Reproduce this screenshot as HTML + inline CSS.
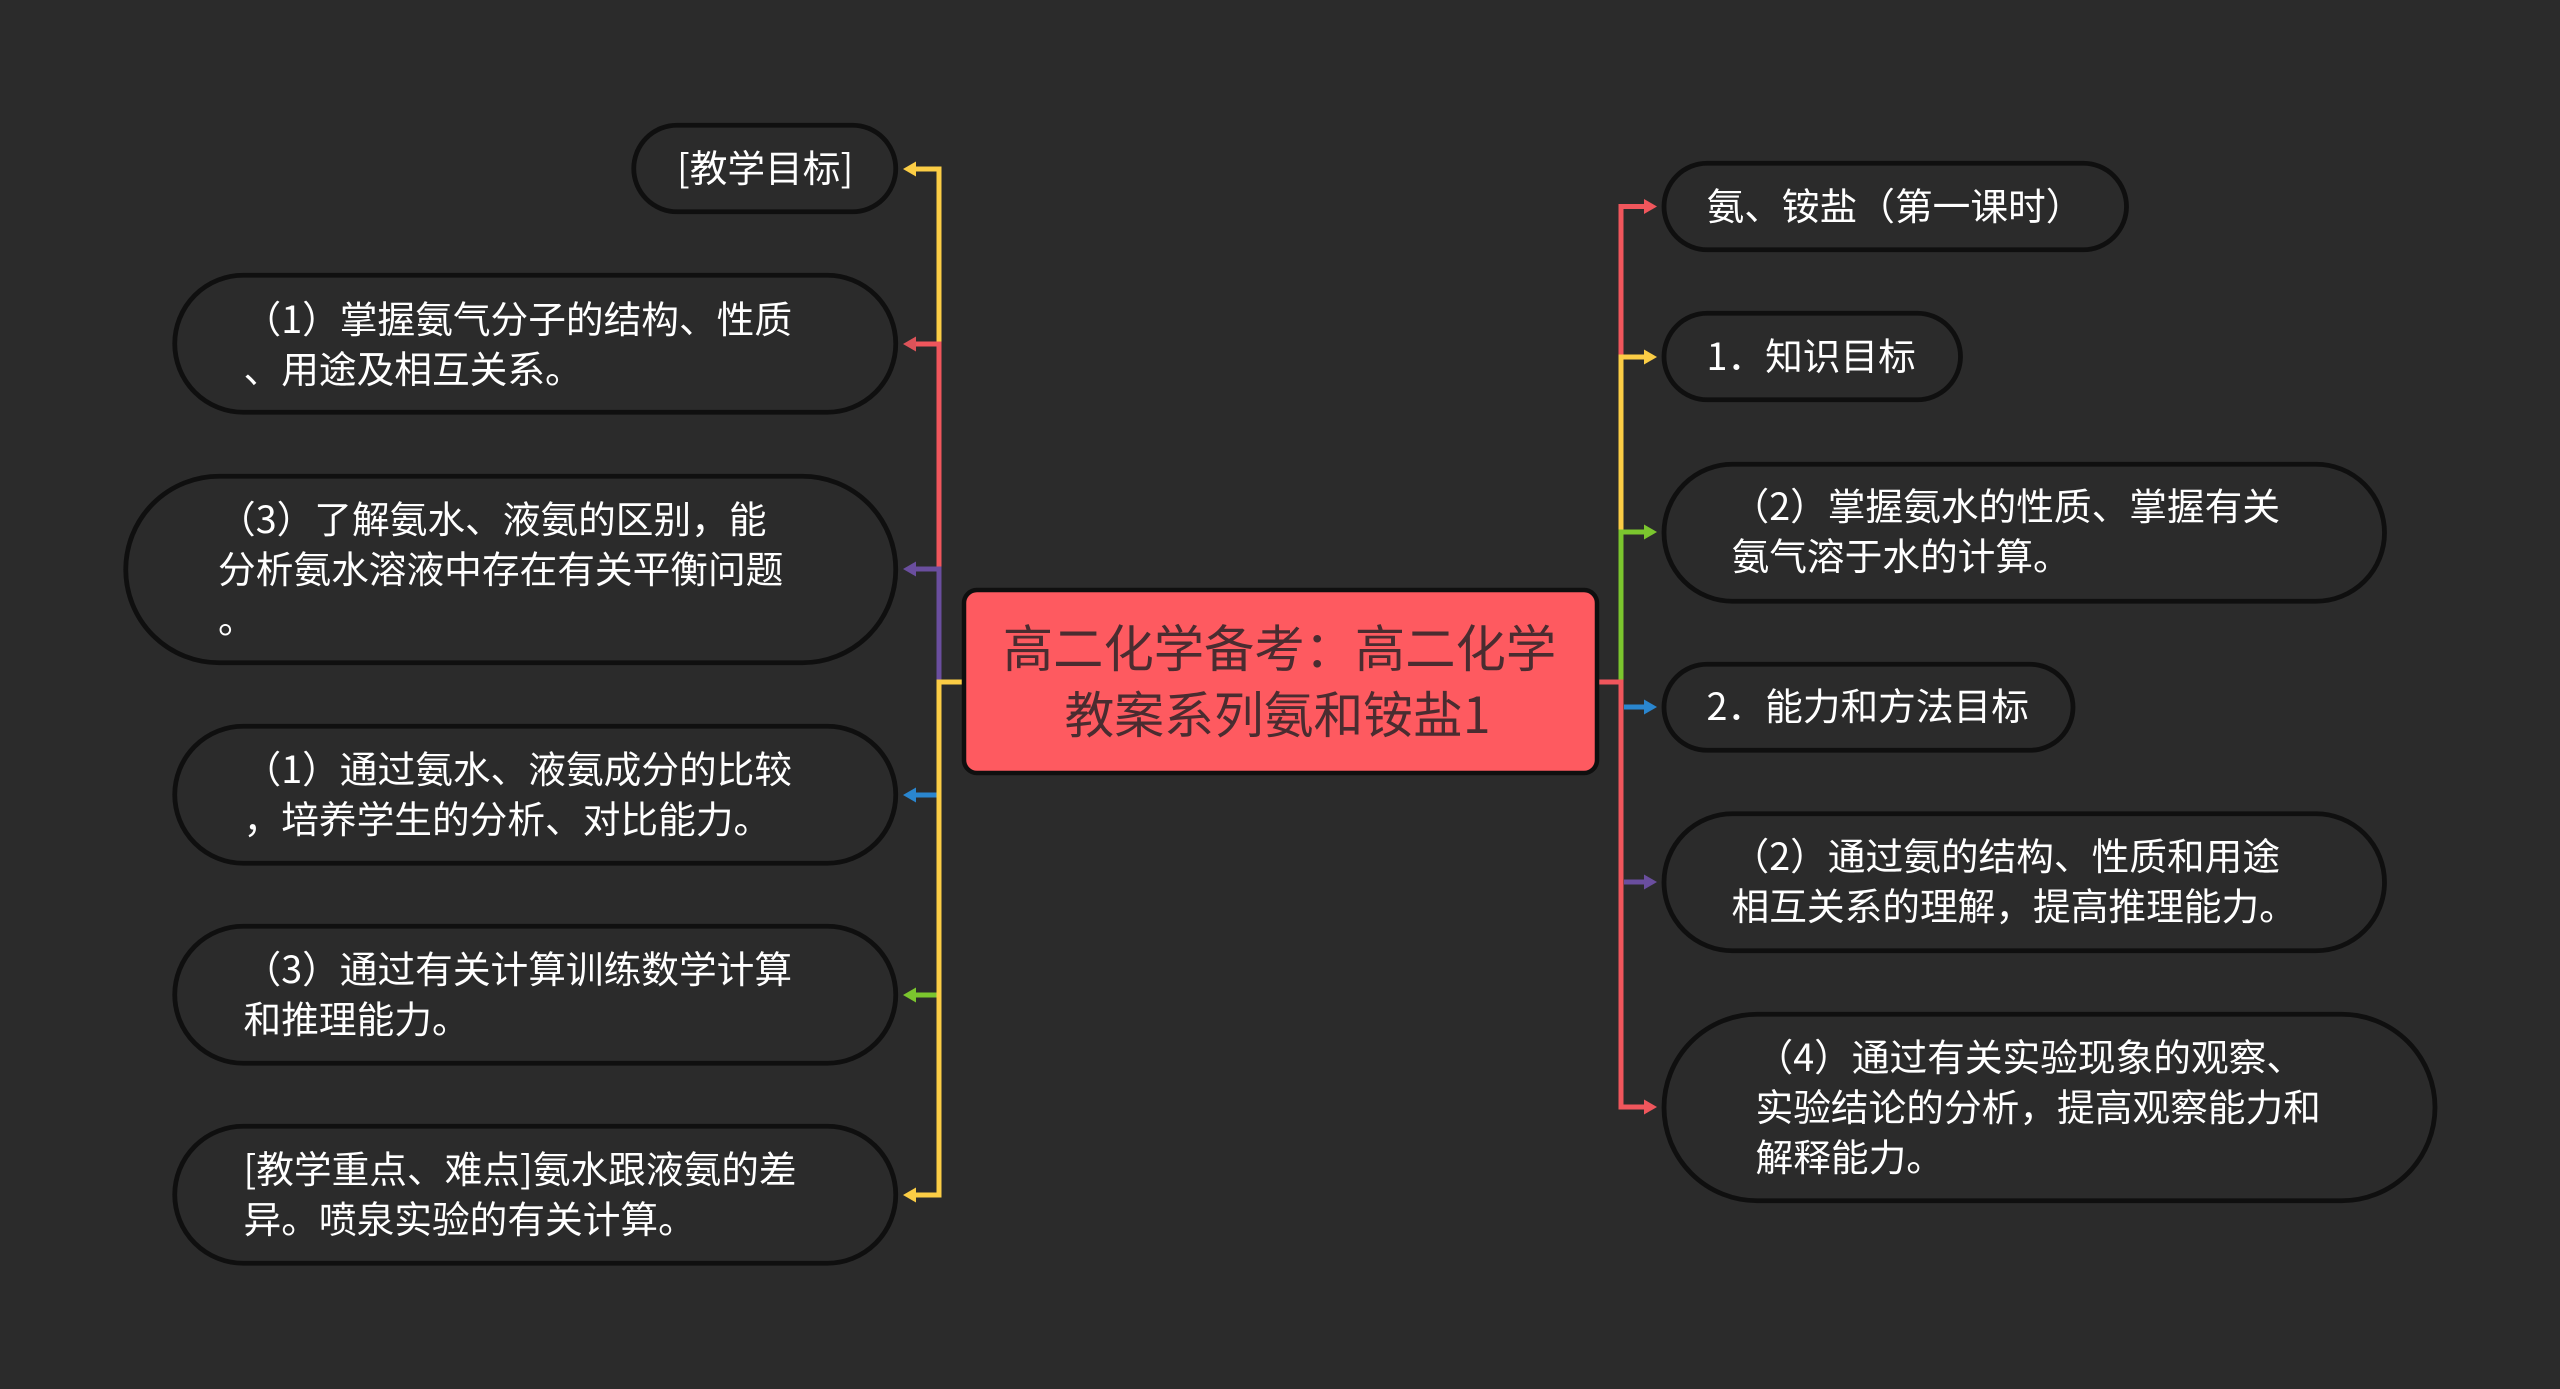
<!DOCTYPE html>
<html lang="zh-CN">
<head>
<meta charset="utf-8">
<title>高二化学备考：高二化学教案系列氨和铵盐1</title>
<style>
html,body{margin:0;padding:0;background:#2b2b2b;}
svg{display:block;}
text{font-family:"Liberation Sans","Noto Sans CJK SC",sans-serif;}
.t{font-family:"Noto Sans CJK SC","WenQuanYi Zen Hei",sans-serif;font-size:37.7px;fill:#fff;}
.c{font-family:"Noto Sans CJK SC","WenQuanYi Zen Hei",sans-serif;font-size:50.3px;fill:#4a2c30;text-anchor:middle;}
.p{fill:#2b2b2b;stroke:#0f0f0f;stroke-width:4.8;}
.l{fill:none;stroke-width:5;stroke-linejoin:miter;}
</style>
</head>
<body>
<svg xmlns="http://www.w3.org/2000/svg" width="2560" height="1389" viewBox="0 0 2560 1389">
<rect width="2560" height="1389" fill="#2b2b2b"/>

<!-- left connectors -->
<path class="l" stroke="#fbcd45" d="M915 169H939V344"/>
<path class="l" stroke="#f0565c" d="M915 344H939V569"/>
<path class="l" stroke="#6a4e9e" d="M915 569H939V682"/>
<path class="l" stroke="#2a86cf" d="M915 795H937"/>
<path class="l" stroke="#7bc62e" d="M915 995H937"/>
<path class="l" stroke="#fbcd45" d="M964 682H939V1195H915"/>
<polygon fill="#fbcd45" points="903,169 916,161.5 916,176.5"/>
<polygon fill="#dd5359" points="903,344 916,336.5 916,351.5"/>
<polygon fill="#6a4e9e" points="903,569 916,561.5 916,576.5"/>
<polygon fill="#2a86cf" points="903,795 916,787.5 916,802.5"/>
<polygon fill="#7bc62e" points="903,995 916,987.5 916,1002.5"/>
<polygon fill="#fbcd45" points="903,1195 916,1187.5 916,1202.5"/>

<!-- right connectors -->
<path class="l" stroke="#f0565c" d="M1645 206.500H1621V357"/>
<path class="l" stroke="#fbcd45" d="M1645 357H1621V532"/>
<path class="l" stroke="#7bc62e" d="M1645 532H1621V682"/>
<path class="l" stroke="#2a86cf" d="M1624 707H1645"/>
<path class="l" stroke="#6a4e9e" d="M1624 882H1645"/>
<path class="l" stroke="#f0565c" d="M1597 682H1621V1107H1645"/>
<polygon fill="#f0565c" points="1657,206.500 1644,199 1644,214"/>
<polygon fill="#fbcd45" points="1657,357 1644,349.500 1644,364.500"/>
<polygon fill="#7bc62e" points="1657,532 1644,524.500 1644,539.500"/>
<polygon fill="#2a86cf" points="1657,707 1644,699.500 1644,714.500"/>
<polygon fill="#6a4e9e" points="1657,882 1644,874.500 1644,889.500"/>
<polygon fill="#f0565c" points="1657,1107 1644,1099.500 1644,1114.500"/>

<!-- centre node -->
<rect x="964" y="590" width="633" height="183" rx="13" ry="13" fill="#fe5a60" stroke="#0f0f0f" stroke-width="4.500"/>
<text class="c" x="1279.500" y="667">高二化学备考：高二化学</text>
<text class="c" x="1277.500" y="733" style="font-size:49.8px">教案系列氨和铵盐1</text>

<!-- left pills -->
<rect class="p" x="633.750" y="125.250" width="262" height="86.500" rx="43.250"/>
<text class="t" x="677" y="182">[教学目标]</text>

<rect class="p" x="174.750" y="275.250" width="721" height="137" rx="68.500"/>
<text class="t" x="243.500" y="333">（1）掌握氨气分子的结构、性质</text>
<text class="t" x="243.500" y="383">、用途及相互关系。</text>

<rect class="p" x="125.750" y="476.250" width="770" height="186.500" rx="93.250"/>
<text class="t" x="218" y="533">（3）了解氨水、液氨的区别，能</text>
<text class="t" x="218" y="583">分析氨水溶液中存在有关平衡问题</text>
<text class="t" x="218" y="633">。</text>

<rect class="p" x="174.750" y="726.250" width="721" height="137" rx="68.500"/>
<text class="t" x="243.500" y="783">（1）通过氨水、液氨成分的比较</text>
<text class="t" x="243.500" y="833">，培养学生的分析、对比能力。</text>

<rect class="p" x="174.750" y="926.250" width="721" height="137" rx="68.500"/>
<text class="t" x="243.500" y="983">（3）通过有关计算训练数学计算</text>
<text class="t" x="243.500" y="1033">和推理能力。</text>

<rect class="p" x="174.750" y="1126.250" width="721" height="137" rx="68.500"/>
<text class="t" x="243.500" y="1183">[教学重点、难点]氨水跟液氨的差</text>
<text class="t" x="243.500" y="1233">异。喷泉实验的有关计算。</text>

<!-- right pills -->
<rect class="p" x="1664" y="163.250" width="462.500" height="86.500" rx="43.250"/>
<text class="t" x="1706.500" y="220">氨、铵盐（第一课时）</text>

<rect class="p" x="1664" y="313.250" width="296.500" height="86.500" rx="43.250"/>
<text class="t" x="1706.500" y="370">1．知识目标</text>

<rect class="p" x="1664" y="464.250" width="720.500" height="137" rx="68.500"/>
<text class="t" x="1731.500" y="520">（2）掌握氨水的性质、掌握有关</text>
<text class="t" x="1731.500" y="570">氨气溶于水的计算。</text>

<rect class="p" x="1664" y="664.250" width="409" height="86" rx="43"/>
<text class="t" x="1706.500" y="720">2．能力和方法目标</text>

<rect class="p" x="1664" y="813.750" width="720.500" height="137" rx="68.500"/>
<text class="t" x="1731.500" y="870">（2）通过氨的结构、性质和用途</text>
<text class="t" x="1731.500" y="920">相互关系的理解，提高推理能力。</text>

<rect class="p" x="1664" y="1014.250" width="771" height="186.500" rx="93.250"/>
<text class="t" x="1755.500" y="1071">（4）通过有关实验现象的观察、</text>
<text class="t" x="1755.500" y="1121">实验结论的分析，提高观察能力和</text>
<text class="t" x="1755.500" y="1171">解释能力。</text>
</svg>
</body>
</html>
